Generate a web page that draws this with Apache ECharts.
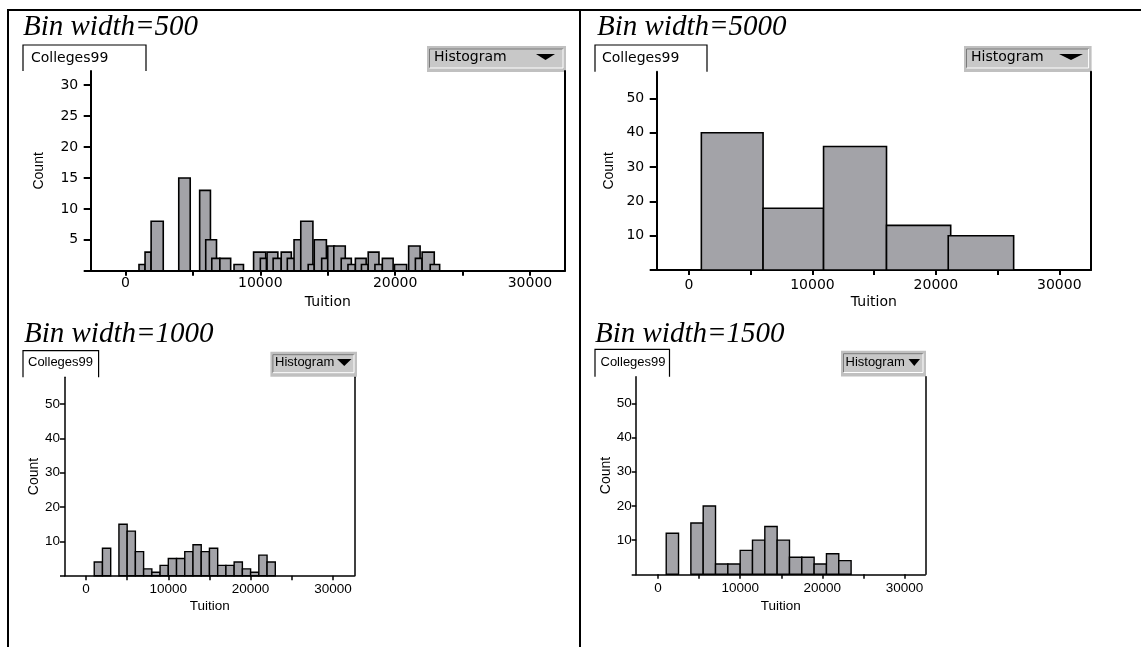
<!DOCTYPE html>
<html><head><meta charset="utf-8">
<script src="https://cdn.jsdelivr.net/npm/echarts@6/dist/echarts.min.js"></script>
<style>html,body{margin:0;padding:0;background:#fff}#c{width:1141px;height:647px}</style>
</head><body><div id="c"></div>
<script>
// ---------- data ----------
const panelTitles = ['Bin width=500', 'Bin width=5000', 'Bin width=1000', 'Bin width=1500'];
const datasetName = 'Colleges99';
const plotType = 'Histogram';
const xName = 'Tuition';
const yName = 'Count';
const xLabelValues = [0, 10000, 20000, 30000];
const xTickValues = [0, 5000, 10000, 15000, 20000, 25000, 30000];
const yLabels500 = [5, 10, 15, 20, 25, 30];
const yTicks500 = [0, 5, 10, 15, 20, 25, 30];
const yLabelsWide = [10, 20, 30, 40, 50];
const yTicksWide = [0, 10, 20, 30, 40, 50];

// bars as drawn: [from tuition, to tuition, count]
const bins500 = [
  [1000, 1450, 1], [1450, 1900, 3], [1900, 2800, 8], [3950, 4800, 15],
  [5500, 6300, 13], [5950, 6750, 5], [6400, 7000, 2], [7000, 7800, 2],
  [8050, 8750, 1], [9500, 10400, 3], [10000, 10450, 2], [10500, 11300, 3],
  [10950, 11550, 2], [11550, 12300, 3], [12000, 12550, 2], [12500, 13000, 5],
  [13000, 13900, 8], [13550, 14000, 1], [14000, 14900, 5], [14550, 15000, 2],
  [15000, 15500, 4], [15450, 16300, 4], [16000, 16750, 2], [16500, 17050, 1],
  [17050, 17850, 2], [17500, 18000, 1], [18000, 18800, 3], [18500, 19050, 1],
  [19050, 19850, 2], [19950, 20850, 1], [21000, 21850, 4], [21500, 22000, 2],
  [22000, 22900, 3], [22600, 23300, 1]
];
const bins5000 = [
  [1000, 6000, 40], [6000, 10900, 18], [10900, 16000, 36], [16000, 21200, 13], [21000, 26300, 10]
];
const bins1000 = [
  [1000, 2000, 4], [2000, 3000, 8], [4000, 5000, 15], [5000, 6000, 13], [6000, 7000, 7],
  [7000, 8000, 2], [8000, 9000, 1], [9000, 10000, 3], [10000, 11000, 5], [11000, 12000, 5],
  [12000, 13000, 7], [13000, 14000, 9], [14000, 15000, 7], [15000, 16000, 8], [16000, 17000, 3],
  [17000, 18000, 3], [18000, 19000, 4], [19000, 20000, 2], [20000, 21000, 1], [21000, 22000, 6],
  [22000, 23000, 4]
];
const bins1500 = [
  [1000, 2500, 12], [4000, 5500, 15], [5500, 7000, 20], [7000, 8500, 3], [8500, 10000, 3],
  [10000, 11500, 7], [11500, 13000, 10], [13000, 14500, 14], [14500, 16000, 10], [16000, 17500, 5],
  [17500, 19000, 5], [19000, 20500, 3], [20500, 22000, 6], [22000, 23500, 4]
];

// ---------- layout ----------
const panelBins = [bins500, bins5000, bins1000, bins1500];
const grids = [
  {left: 90.7, top: 71, width: 474.3, height: 199.7},
  {left: 656.7, top: 71.7, width: 434.3, height: 198.3},
  {left: 65, top: 377.3, width: 289.3, height: 198.4},
  {left: 636.2, top: 376.7, width: 289.1, height: 197.6}
];
const xRanges = [[-2581, 32597], [-2617, 32566], [-2552, 32600], [-2653, 32530]];
const yMaxes = [32.3, 57.8, 57.8, 57.8];
const yLabelSets = [yLabels500, yLabelsWide, yLabelsWide, yLabelsWide];
const yTickSets = [yTicks500, yTicksWide, yTicksWide, yTicksWide];
const wideFont = '"DejaVu Sans", sans-serif';
const tightFont = '"Liberation Sans", Arial, sans-serif';
const P = [
  {font: wideFont, fs: 14, lw: 2, ytl: 7, xtl: 5, ylm: 12.5, xlm: 6, yng: 45, xng: 25},
  {font: wideFont, fs: 14, lw: 2, ytl: 7, xtl: 5, ylm: 12.5, xlm: 8, yng: 41, xng: 25},
  {font: tightFont, fs: 13.5, lw: 1.5, ytl: 5, xtl: 4.5, ylm: 5, xlm: 7, yng: 22, xng: 24},
  {font: tightFont, fs: 13.5, lw: 1.5, ytl: 4.5, xtl: 4.5, ylm: 4.5, xlm: 7, yng: 21, xng: 25}
];
const plain = v => String(v);

const xAxes = [], yAxes = [], rightAxes = [], series = [];
grids.forEach((g, i) => {
  const p = P[i];
  xAxes.push({
    gridIndex: i, type: 'value', min: xRanges[i][0], max: xRanges[i][1], position: 'bottom',
    axisLine: {onZero: false, lineStyle: {color: '#000', width: p.lw}},
    axisTick: {show: true, length: p.xtl, customValues: xTickValues, lineStyle: {color: '#000', width: p.lw}},
    axisLabel: {customValues: xLabelValues, formatter: plain, margin: p.xlm, color: '#000', fontFamily: p.font, fontSize: p.fs},
    splitLine: {show: false},
    name: xName, nameLocation: 'middle', nameGap: p.xng,
    nameTextStyle: {color: '#000', fontFamily: p.font, fontSize: p.fs}
  });
  yAxes.push({
    gridIndex: i, type: 'value', min: 0, max: yMaxes[i], position: 'left',
    axisLine: {show: true, onZero: false, lineStyle: {color: '#000', width: p.lw}},
    axisTick: {show: true, length: p.ytl, customValues: yTickSets[i], lineStyle: {color: '#000', width: p.lw}},
    axisLabel: {customValues: yLabelSets[i], formatter: plain, margin: p.ylm, color: '#000', fontFamily: p.font, fontSize: p.fs},
    splitLine: {show: false},
    name: yName, nameLocation: 'middle', nameGap: p.yng,
    nameTextStyle: {color: '#000', fontFamily: tightFont, fontSize: 14}
  });
  rightAxes.push({
    gridIndex: i, type: 'value', min: 0, max: yMaxes[i], position: 'right',
    axisLine: {show: true, onZero: false, lineStyle: {color: '#000', width: p.lw}},
    axisTick: {show: false}, axisLabel: {show: false}, splitLine: {show: false}
  });
  series.push({
    type: 'custom', xAxisIndex: i, yAxisIndex: i, data: panelBins[i],
    encode: {x: [0, 1], y: 2}, silent: true, clip: false,
    renderItem: function (params, api) {
      const a = api.coord([api.value(0), api.value(2)]);
      const b = api.coord([api.value(1), 0]);
      return {
        type: 'rect',
        shape: {x: a[0], y: a[1], width: b[0] - a[0], height: b[1] - a[1]},
        style: {fill: '#a3a3a8', stroke: '#000', lineWidth: i < 2 ? 1.6 : 1.4}
      };
    }
  });
});

// ---------- decorations ----------
const graphics = [];
// frame
graphics.push({type: 'line', shape: {x1: 7, y1: 10, x2: 1141, y2: 10}, style: {stroke: '#000', lineWidth: 2}});
graphics.push({type: 'line', shape: {x1: 8, y1: 9, x2: 8, y2: 647}, style: {stroke: '#000', lineWidth: 2}});
graphics.push({type: 'line', shape: {x1: 580, y1: 9, x2: 580, y2: 647}, style: {stroke: '#000', lineWidth: 2}});

const titlePos = [[23, 27.5], [597, 27.5], [24, 334.8], [595, 334.8]];
titlePos.forEach((t, i) => {
  graphics.push({type: 'text', x: t[0], y: t[1], style: {
    text: panelTitles[i], font: 'italic 29px "Liberation Serif", "Times New Roman", serif',
    fill: '#000', verticalAlign: 'middle', align: 'left'}});
});

// dataset tabs [x1, x2, yTop, yBottom, textX, textY]
const tabs = [[23, 146, 45, 71, 31, 58], [595, 707, 45, 71.7, 602, 58],
              [23, 98.6, 350.7, 377.3, 28, 362], [595, 669.5, 349.3, 376.7, 600.5, 362]];
tabs.forEach((t, i) => {
  graphics.push({type: 'rect', shape: {x: t[0], y: t[2], width: t[1] - t[0], height: t[3] - t[2]}, style: {fill: '#fff'}});
  graphics.push({type: 'polyline', shape: {points: [[t[0], t[3]], [t[0], t[2]], [t[1], t[2]], [t[1], t[3]]]},
    style: {stroke: '#000', lineWidth: 1.2, fill: null}});
  graphics.push({type: 'text', x: t[4], y: t[5], style: {text: datasetName,
    font: (i < 2 ? '14px ' + wideFont : '13px ' + tightFont), fill: '#000', verticalAlign: 'middle'}});
});

// plot-type buttons [x1, x2, y1, y2, textX, textY, triX1, triX2, triY1, triY2]
const btns = [
  [427, 566, 46, 72, 434, 57.5, 536, 555, 54, 60],
  [964, 1091.6, 46, 72, 971, 57.5, 1059, 1083, 54, 60],
  [270.4, 357, 351.7, 376.7, 275, 362, 337, 351.5, 359, 366],
  [841, 926, 350.7, 376.5, 845.5, 362, 908.5, 920, 359, 366]
];
btns.forEach((b, i) => {
  graphics.push({type: 'rect', shape: {x: b[0], y: b[2], width: b[1] - b[0], height: b[3] - b[2]}, style: {fill: '#c0c0c0'}});
  const ix1 = b[0] + 2.5, ix2 = b[1] - 3, iy1 = b[2] + 3, iy2 = b[3] - 4;
  graphics.push({type: 'rect', shape: {x: ix1, y: iy1, width: ix2 - ix1, height: iy2 - iy1}, style: {fill: '#c8c8c8'}});
  graphics.push({type: 'polyline', shape: {points: [[ix1, iy2], [ix1, iy1], [ix2, iy1]]}, style: {stroke: '#7a7a7a', lineWidth: 1, fill: null}});
  graphics.push({type: 'polyline', shape: {points: [[ix2, iy1], [ix2, iy2], [ix1, iy2]]}, style: {stroke: '#fff', lineWidth: 1, fill: null}});
  graphics.push({type: 'text', x: b[4], y: b[5], style: {text: plotType,
    font: (i < 2 ? '14px ' + wideFont : '13px ' + tightFont), fill: '#000', verticalAlign: 'middle'}});
  graphics.push({type: 'polygon', shape: {points: [[b[6], b[8]], [b[7], b[8]], [(b[6] + b[7]) / 2, b[9]]]}, style: {fill: '#000'}});
});

const chart = echarts.init(document.getElementById('c'), null, {renderer: 'canvas'});
chart.setOption({
  backgroundColor: '#fff',
  animation: false,
  grid: grids.map(g => Object.assign({containLabel: false, outerBoundsMode: 'none'}, g)),
  xAxis: xAxes,
  yAxis: yAxes.concat(rightAxes),
  series: series,
  graphic: graphics
});
</script></body></html>
